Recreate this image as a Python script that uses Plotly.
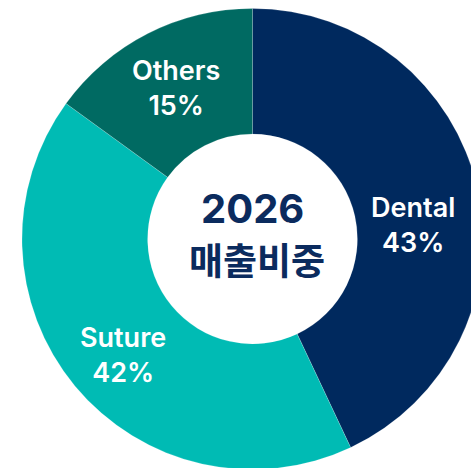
import plotly.graph_objects as go

labels = ["Dental", "Suture", "Others"]
values = [43, 42, 15]
colors = ["#00295E", "#00BBB4", "#006A62"]
center_year = "2026"
center_title = "매출비중"

W, H = 506, 480

fig = go.Figure(go.Pie(
    labels=labels,
    values=values,
    sort=False,
    direction="clockwise",
    rotation=0,
    hole=0.455,
    marker=dict(colors=colors, line=dict(color="rgba(255,255,255,0.35)", width=0.5)),
    textinfo="none",
    hoverinfo="label+percent",
    domain=dict(x=[22 / W, 483 / W], y=[1 - 470 / H, 1 - 8 / H]),
    showlegend=False,
))

# slice label placement (layout positions, pixel coords of label centres)
label_centres = [(413, 225), (123, 355), (176, 88)]
for lab, val, (px, py) in zip(labels, values, label_centres):
    fig.add_annotation(x=px / W, y=1 - py / H, xref="paper", yref="paper",
                       text=f"{lab}<br>{val}%", showarrow=False,
                       xanchor="center", yanchor="middle", align="center",
                       font=dict(family="Inter, Noto Sans CJK KR", size=27,
                                 color="white", weight=600))

navy = "#0B2B5E"
fig.add_annotation(x=252.5 / W, y=1 - 208 / H, xref="paper", yref="paper",
                   text=center_year, showarrow=False, xanchor="center", yanchor="middle",
                   font=dict(family="Inter, Noto Sans CJK KR", size=40, color=navy, weight=700))
fig.add_annotation(x=257 / W, y=1 - 259 / H, xref="paper", yref="paper",
                   text=center_title, showarrow=False, xanchor="center", yanchor="middle",
                   font=dict(family="Noto Sans CJK KR", size=37, color=navy, weight=700))

fig.update_layout(
    width=W, height=H,
    margin=dict(l=0, r=0, t=0, b=0),
    paper_bgcolor="white", plot_bgcolor="white",
)

fig.write_html("out.html", config={"displayModeBar": False},
               post_script="document.body.style.margin='0';document.body.style.overflow='hidden';document.documentElement.style.overflow='hidden';")
